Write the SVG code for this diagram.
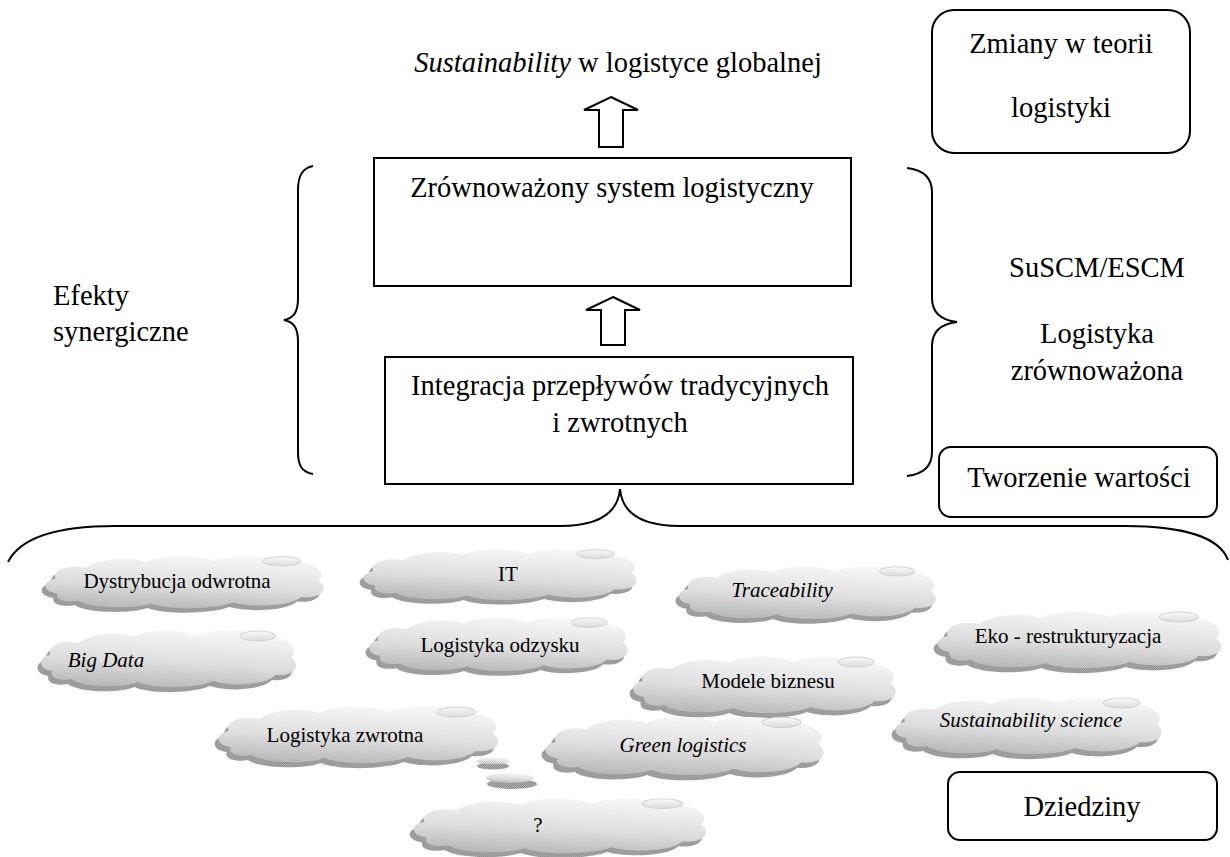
<svg xmlns="http://www.w3.org/2000/svg" xmlns:xlink="http://www.w3.org/1999/xlink" width="1230" height="857" viewBox="0 0 1230 857">
<style>
.t{font-family:"Liberation Serif","Times New Roman",serif;fill:#000;}
.big{font-size:28.5px;}
.sm{font-size:21px;}
.it{font-style:italic;}
.box{fill:#fff;stroke:#000;stroke-width:2;}
.brace{fill:none;stroke:#000;stroke-width:2;}
.arrow{fill:#fff;stroke:#000;stroke-width:2;stroke-linejoin:miter;}
.shadow{fill:url(#chk);}
.cloud{fill:url(#cg);}
.hl{fill:url(#hg);stroke:#cfcfcf;stroke-width:1;}
</style>
<defs>
<pattern id="chk" width="2" height="2" patternUnits="userSpaceOnUse">
<rect width="2" height="2" fill="#b0b0b0"/>
<rect width="1" height="1" fill="#8a8a8a"/>
<rect x="1" y="1" width="1" height="1" fill="#8a8a8a"/>
</pattern>
<linearGradient id="cg" x1="0.6" y1="0" x2="0.35" y2="1">
<stop offset="0" stop-color="#f6f6f6"/>
<stop offset="0.55" stop-color="#dedede"/>
<stop offset="1" stop-color="#b8b8b8"/>
</linearGradient>
<linearGradient id="hg" x1="0" y1="0" x2="0" y2="1">
<stop offset="0" stop-color="#fbfbfb"/>
<stop offset="1" stop-color="#dadada"/>
</linearGradient>
<path id="cs" d="M18,44 C2,42 2,30 16,28 C12,18 30,12 48,16 C60,6 95,4 110,10 C125,2 165,2 180,9 C195,2 240,2 255,10 C275,8 300,18 288,30 C300,40 290,50 270,48 C260,58 220,60 200,54 C180,62 130,62 115,55 C95,62 50,60 40,52 C30,54 15,52 18,44 Z"/>
<g id="cloudArt">
<use xlink:href="#cs" href="#cs" class="shadow" transform="translate(-4,5)"/>
<use xlink:href="#cs" href="#cs" class="cloud"/>
<ellipse cx="250" cy="9" rx="20" ry="5" class="hl"/>
</g>
</defs>

<g id="connectors">
<path class="arrow" d="M611,97 L638,110 L623,110 L623,147 L599,147 L599,110 L584,110 Z"/>
<path class="arrow" d="M613,297 L640,310 L625,310 L625,345 L601,345 L601,310 L586,310 Z"/>
<path class="brace" d="M313,166 C302,168 298,176 298,190 L298,298 C298,312 294,318 284,320 C294,322 298,328 298,342 L298,452 C298,466 302,472 313,474"/>
<path class="brace" d="M907,168 C924,170 932,178 932,192 L932,298 C932,312 940,320 957,322 C940,324 932,332 932,346 L932,452 C932,466 924,474 907,476"/>
<path class="brace" d="M8,562 C20,538 55,526 115,526 L560,526 C600,526 618,512 620,489 C622,512 640,526 680,526 L1125,526 C1185,526 1220,538 1228,560"/>
</g>

<g id="title"><text class="t big" x="618" y="72" text-anchor="middle"><tspan class="it">Sustainability</tspan> w logistyce globalnej</text></g>

<g id="zmiany">
<rect class="box" x="932" y="10" width="258" height="143" rx="22"/>
<text class="t big" x="1061" y="53" text-anchor="middle">Zmiany w teorii</text>
<text class="t big" x="1061" y="117" text-anchor="middle">logistyki</text>
</g>

<g id="system">
<rect class="box" x="374" y="158" width="477" height="128"/>
<text class="t big" x="612" y="197" text-anchor="middle">Zrównoważony system logistyczny</text>
</g>

<g id="integracja">
<rect class="box" x="385" y="357" width="468" height="127"/>
<text class="t big" x="620" y="395" text-anchor="middle">Integracja przepływów tradycyjnych</text>
<text class="t big" x="620" y="432" text-anchor="middle">i zwrotnych</text>
</g>

<g id="efekty">
<text class="t big" x="53" y="305">Efekty</text>
<text class="t big" x="53" y="341">synergiczne</text>
</g>

<g id="suscm">
<text class="t big" x="1097" y="277" text-anchor="middle">SuSCM/ESCM</text>
<text class="t big" x="1097" y="343" text-anchor="middle">Logistyka</text>
<text class="t big" x="1097" y="380" text-anchor="middle">zrównoważona</text>
</g>

<g id="tworzenie">
<rect class="box" x="939" y="447" width="278" height="70" rx="12"/>
<text class="t big" x="1079" y="487" text-anchor="middle">Tworzenie wartości</text>
</g>

<g id="cloud-dystrybucja">
<use xlink:href="#cloudArt" href="#cloudArt" transform="translate(40,553) scale(0.967,0.917)"/>
<text class="t sm" x="177" y="588" text-anchor="middle">Dystrybucja odwrotna</text>
</g>
<g id="cloud-it">
<use xlink:href="#cloudArt" href="#cloudArt" transform="translate(358,546) scale(0.95,0.9)"/>
<text class="t sm" x="508" y="581" text-anchor="middle">IT</text>
</g>
<g id="cloud-traceability">
<use xlink:href="#cloudArt" href="#cloudArt" transform="translate(674,563) scale(0.893,0.933)"/>
<text class="t sm it" x="782" y="597" text-anchor="middle">Traceability</text>
</g>
<g id="cloud-bigdata">
<use xlink:href="#cloudArt" href="#cloudArt" transform="translate(36,627) scale(0.887,1)"/>
<text class="t sm it" x="106" y="667" text-anchor="middle">Big Data</text>
</g>
<g id="cloud-odzysk">
<use xlink:href="#cloudArt" href="#cloudArt" transform="translate(364,614) scale(0.9,0.95)"/>
<text class="t sm" x="500" y="652" text-anchor="middle">Logistyka odzysku</text>
</g>
<g id="cloud-eko">
<use xlink:href="#cloudArt" href="#cloudArt" transform="translate(932,608) scale(0.987,1)"/>
<text class="t sm" x="1068" y="643" text-anchor="middle">Eko - restrukturyzacja</text>
</g>
<g id="cloud-modele">
<use xlink:href="#cloudArt" href="#cloudArt" transform="translate(628,653) scale(0.913,1)"/>
<text class="t sm" x="768" y="688" text-anchor="middle">Modele biznesu</text>
</g>
<g id="cloud-zwrotna">
<use xlink:href="#cloudArt" href="#cloudArt" transform="translate(213,703) scale(0.973,1)"/>
<text class="t sm" x="345" y="742" text-anchor="middle">Logistyka zwrotna</text>
</g>
<g id="cloud-science">
<use xlink:href="#cloudArt" href="#cloudArt" transform="translate(890,694) scale(0.927,1)"/>
<text class="t sm it" x="1031" y="727" text-anchor="middle">Sustainability science</text>
</g>
<g id="cloud-green">
<use xlink:href="#cloudArt" href="#cloudArt" transform="translate(540,713) scale(0.967,1.033)"/>
<text class="t sm it" x="683" y="752" text-anchor="middle">Green logistics</text>
</g>
<g id="bubbles">
<ellipse cx="493" cy="766" rx="16" ry="3.5" class="shadow"/>
<ellipse cx="493" cy="761" rx="16" ry="3.5" class="cloud"/>
<ellipse cx="512" cy="784" rx="25" ry="5" class="shadow"/>
<ellipse cx="510" cy="778" rx="24" ry="5" class="cloud"/>
</g>
<g id="cloud-q">
<use xlink:href="#cloudArt" href="#cloudArt" transform="translate(408,795) scale(1.017,0.967)"/>
<text class="t sm" x="538" y="832" text-anchor="middle">?</text>
</g>

<g id="dziedziny">
<rect class="box" x="948" y="772" width="269" height="68" rx="12"/>
<text class="t big" x="1082" y="816" text-anchor="middle">Dziedziny</text>
</g>
</svg>
